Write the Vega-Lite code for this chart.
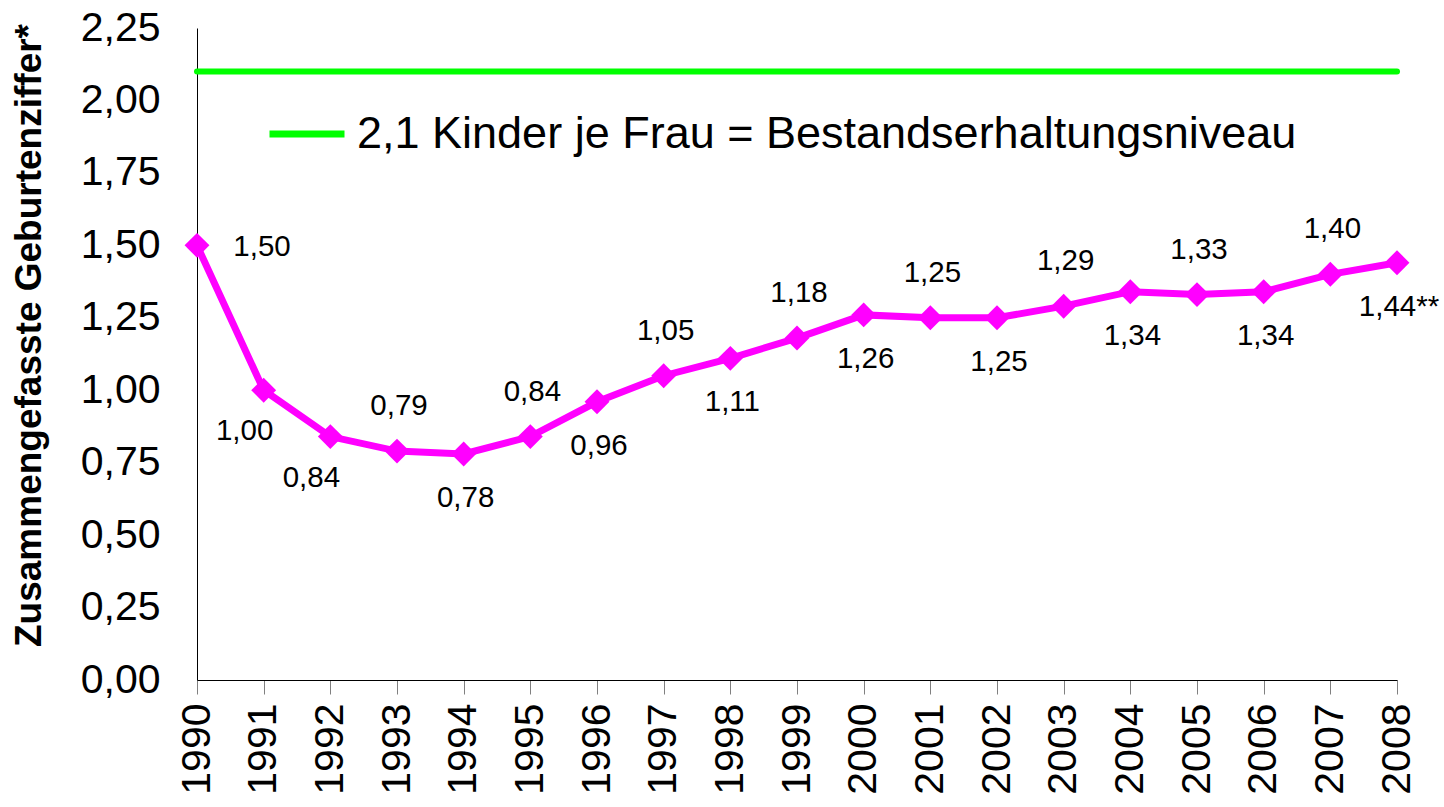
{
  "$schema": "https://vega.github.io/schema/vega-lite/v6.json",
  "width": 1200,
  "height": 652,
  "autosize": {"type": "none"},
  "padding": {"left": 197, "top": 28, "right": 47, "bottom": 127},
  "background": "white",
  "config": {
    "font": "Liberation Sans",
    "view": {"stroke": null},
    "locale": {"number": {"decimal": ",", "thousands": ".", "grouping": [3], "currency": ["", " €"]}}
  },
  "datasets": {
    "geburten": [
      {"jahr": 1990, "wert": 1.50, "label": "1,50"},
      {"jahr": 1991, "wert": 1.00, "label": "1,00"},
      {"jahr": 1992, "wert": 0.84, "label": "0,84"},
      {"jahr": 1993, "wert": 0.79, "label": "0,79"},
      {"jahr": 1994, "wert": 0.78, "label": "0,78"},
      {"jahr": 1995, "wert": 0.84, "label": "0,84"},
      {"jahr": 1996, "wert": 0.96, "label": "0,96"},
      {"jahr": 1997, "wert": 1.05, "label": "1,05"},
      {"jahr": 1998, "wert": 1.11, "label": "1,11"},
      {"jahr": 1999, "wert": 1.18, "label": "1,18"},
      {"jahr": 2000, "wert": 1.26, "label": "1,26"},
      {"jahr": 2001, "wert": 1.25, "label": "1,25"},
      {"jahr": 2002, "wert": 1.25, "label": "1,25"},
      {"jahr": 2003, "wert": 1.29, "label": "1,29"},
      {"jahr": 2004, "wert": 1.34, "label": "1,34"},
      {"jahr": 2005, "wert": 1.33, "label": "1,33"},
      {"jahr": 2006, "wert": 1.34, "label": "1,34"},
      {"jahr": 2007, "wert": 1.40, "label": "1,40"},
      {"jahr": 2008, "wert": 1.44, "label": "1,44**"}
    ],
    "niveau": [
      {"wert": 2.1, "bezeichnung": "2,1 Kinder je Frau = Bestandserhaltungsniveau"}
    ]
  },
  "layer": [
    {
      "data": {"name": "niveau"},
      "mark": {"type": "rule", "strokeWidth": 6, "strokeCap": "round"},
      "encoding": {
        "y": {"field": "wert", "type": "quantitative"},
        "color": {
          "field": "bezeichnung", "type": "nominal",
          "scale": {"range": ["#00ff00"]},
          "legend": {
            "orient": "none", "legendX": 69, "legendY": 65, "title": null,
            "symbolType": "stroke", "symbolSize": 5625, "symbolStrokeWidth": 7,
            "labelFontSize": 45, "labelLimit": 0, "labelOffset": 9, "padding": 0,
            "labelColor": "black"
          }
        }
      }
    },
    {
      "data": {"name": "geburten"},
      "mark": {"type": "line", "color": "#ff00ff", "strokeWidth": 7},
      "encoding": {
        "x": {
          "field": "jahr", "type": "ordinal",
          "scale": {"type": "point", "padding": 0},
          "axis": {
            "title": null, "labelAngle": -90, "labelFontSize": 41, "labelColor": "black",
            "tickSize": 14, "tickColor": "#808080", "labelPadding": 9, "domainColor": "black"
          }
        },
        "y": {
          "field": "wert", "type": "quantitative",
          "scale": {"domain": [0, 2.25], "nice": false, "zero": true},
          "axis": {
            "title": "Zusammengefasste Geburtenziffer*",
            "titleFontSize": 37, "titleFontWeight": "bold", "titleColor": "black",
            "titleX": -168, "titleY": 307, "titleAngle": -90, "titleAlign": "center", "titleBaseline": "middle",
            "values": [0, 0.25, 0.5, 0.75, 1, 1.25, 1.5, 1.75, 2, 2.25],
            "format": ".2f", "labelFontSize": 41, "labelColor": "black",
            "ticks": false, "labelPadding": 37, "domainColor": "black", "grid": false
          }
        }
      }
    },
    {
      "data": {"name": "geburten"},
      "mark": {"type": "point", "shape": "diamond", "filled": true, "size": 620, "color": "#ff00ff", "opacity": 1},
      "encoding": {
        "x": {"field": "jahr", "type": "ordinal"},
        "y": {"field": "wert", "type": "quantitative"}
      }
    },
    {
      "data": {"name": "geburten"},
      "transform": [{"filter": "datum.jahr == 1990"}],
      "mark": {"type": "text", "fontSize": 29.5, "dx": 65, "dy": 2, "color": "black"},
      "encoding": {
        "x": {"field": "jahr", "type": "ordinal"},
        "y": {"field": "wert", "type": "quantitative"},
        "text": {"field": "label"}
      }
    },
    {
      "data": {"name": "geburten"},
      "transform": [{"filter": "datum.jahr == 1991 || datum.jahr == 1992"}],
      "mark": {"type": "text", "fontSize": 29.5, "dx": -19, "dy": 41, "color": "black"},
      "encoding": {
        "x": {"field": "jahr", "type": "ordinal"},
        "y": {"field": "wert", "type": "quantitative"},
        "text": {"field": "label"}
      }
    },
    {
      "data": {"name": "geburten"},
      "transform": [{"filter": "datum.jahr >= 1993 && datum.jahr % 2 == 1"}],
      "mark": {"type": "text", "fontSize": 29.5, "dx": 2, "dy": -45, "color": "black"},
      "encoding": {
        "x": {"field": "jahr", "type": "ordinal"},
        "y": {"field": "wert", "type": "quantitative"},
        "text": {"field": "label"}
      }
    },
    {
      "data": {"name": "geburten"},
      "transform": [{"filter": "datum.jahr >= 1994 && datum.jahr % 2 == 0"}],
      "mark": {"type": "text", "fontSize": 29.5, "dx": 2, "dy": 44, "color": "black"},
      "encoding": {
        "x": {"field": "jahr", "type": "ordinal"},
        "y": {"field": "wert", "type": "quantitative"},
        "text": {"field": "label"}
      }
    }
  ]
}
